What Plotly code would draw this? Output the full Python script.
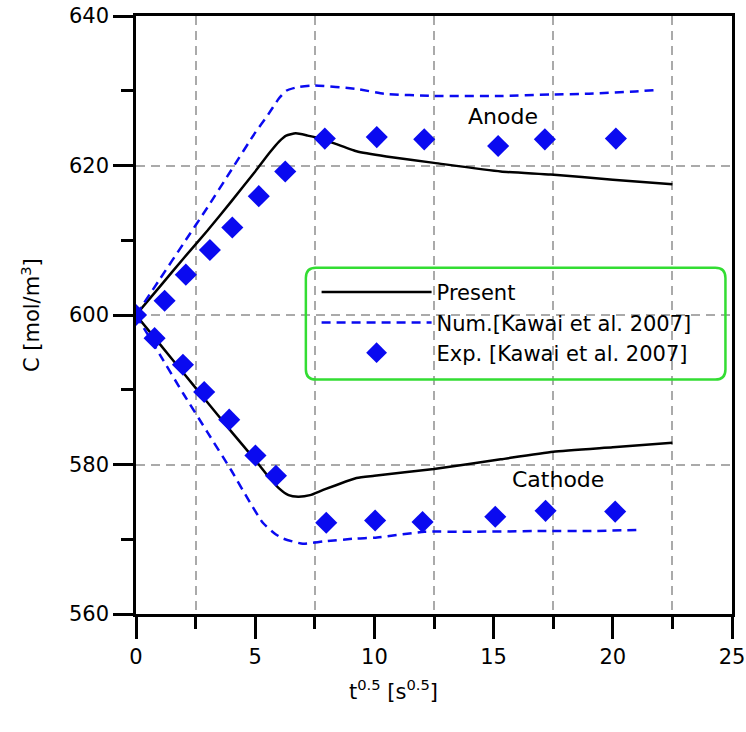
import plotly.graph_objects as go

# ---- data ----
present_anode_t = [0, 1, 2, 3, 4, 5, 5.6, 6.0, 6.3, 6.7, 7.2, 7.85, 9.25, 10.5, 12.5, 15.3, 17.4, 20, 22.5]
present_anode_c = [600, 603.8, 607.6, 611.3, 615.2, 619.2, 621.7, 623.2, 624.0, 624.3, 624.0, 623.5, 621.9, 621.2, 620.35, 619.2, 618.8, 618.1, 617.5]

present_cath_t = [0, 1, 2, 3, 4, 5, 5.5, 6.0, 6.4, 6.8, 7.3, 7.85, 9.25, 10, 12.5, 15.3, 17.5, 20, 22.5]
present_cath_c = [600, 596.1, 592.2, 588.3, 584.4, 580.6, 578.6, 576.8, 575.9, 575.7, 575.9, 576.6, 578.2, 578.5, 579.4, 580.7, 581.7, 582.3, 582.9]

num_anode_t = [0, 1, 2, 3, 4, 5, 5.5, 6.0, 6.3, 6.8, 7.5, 9.25, 10.4, 12.5, 15.3, 17.4, 19, 20.95, 21.8]
num_anode_c = [600, 604.8, 609.6, 614.4, 619.4, 624.4, 626.6, 629.0, 630.0, 630.5, 630.7, 630.25, 629.6, 629.3, 629.3, 629.5, 629.6, 629.9, 630.1]

num_cath_t = [0, 1, 2, 3, 4, 4.62, 5.32, 5.8, 6.16, 7.0, 7.85, 9.25, 10.0, 12.1, 14, 17, 19, 21.15]
num_cath_c = [600, 594.7, 589.4, 584.3, 579.2, 575.8, 572.2, 570.8, 570.1, 569.4, 569.7, 570.1, 570.2, 571.0, 571.0, 571.1, 571.1, 571.25]

exp_anode_t = [0, 1.2, 2.09, 3.1, 4.04, 5.15, 6.26, 7.92, 10.1, 12.09, 15.19, 17.15, 20.13]
exp_anode_c = [600, 601.9, 605.4, 608.7, 611.7, 615.9, 619.2, 623.6, 623.8, 623.5, 622.6, 623.5, 623.6]

exp_cath_t = [0.78, 1.97, 2.86, 3.91, 5.01, 5.87, 7.98, 10.03, 12.02, 15.07, 17.18, 20.1]
exp_cath_c = [596.9, 593.35, 589.7, 586.0, 581.2, 578.5, 572.2, 572.5, 572.3, 573.0, 573.8, 573.7]

labels = ["Present", "Num.[Kawai et al. 2007]", "Exp. [Kawai et al. 2007]"]

FONT = "DejaVu Sans"
BLUE = "#0a0af0"

fig = go.Figure()
fig.add_trace(go.Scatter(x=present_anode_t, y=present_anode_c, mode="lines",
                         line=dict(color="black", width=2.5, shape="spline", smoothing=0.5),
                         name=labels[0], legendrank=1))
fig.add_trace(go.Scatter(x=present_cath_t, y=present_cath_c, mode="lines",
                         line=dict(color="black", width=2.5, shape="spline", smoothing=0.5),
                         name=labels[0], showlegend=False))
fig.add_trace(go.Scatter(x=num_anode_t, y=num_anode_c, mode="lines",
                         line=dict(color=BLUE, width=2.5, dash="9px,6px", shape="spline", smoothing=0.5),
                         name=labels[1], legendrank=2))
fig.add_trace(go.Scatter(x=num_cath_t, y=num_cath_c, mode="lines",
                         line=dict(color=BLUE, width=2.5, dash="9px,6px", shape="spline", smoothing=0.5),
                         name=labels[1], showlegend=False))
fig.add_trace(go.Scatter(x=exp_anode_t, y=exp_anode_c, mode="markers",
                         marker=dict(symbol="diamond", size=17, color=BLUE), name=labels[2], legendrank=3))
fig.add_trace(go.Scatter(x=exp_cath_t, y=exp_cath_c, mode="markers",
                         marker=dict(symbol="diamond", size=17, color=BLUE), name=labels[2], showlegend=False))

x0, x1, y0, y1 = 0.285, 0.989, 0.392, 0.579
rx, ry = 0.017, 0.017
path = (f"M {x0+rx},{y0} L {x1-rx},{y0} Q {x1},{y0} {x1},{y0+ry} "
        f"L {x1},{y1-ry} Q {x1},{y1} {x1-rx},{y1} L {x0+rx},{y1} "
        f"Q {x0},{y1} {x0},{y1-ry} L {x0},{y0+ry} Q {x0},{y0} {x0+rx},{y0} Z")
fig.add_shape(type="path", path=path, xref="paper", yref="paper",
              line=dict(color="#33dd33", width=2.5), fillcolor="rgba(0,0,0,0)", layer="above")

fig.add_annotation(x=15.4, y=626.6, text="Anode", showarrow=False,
                   font=dict(family=FONT, size=22, color="black"))
fig.add_annotation(x=17.7, y=578.0, text="Cathode", showarrow=False,
                   font=dict(family=FONT, size=22, color="black"))

fig.add_annotation(xref="paper", yref="paper", x=(394 - 136.5) / 595, y=(614 - 690) / 597.5,
                   xanchor="center", yanchor="middle",
                   text="t<sup>0.5</sup> [s<sup>0.5</sup>]", showarrow=False,
                   font=dict(family=FONT, size=21, color="black"))
fig.add_annotation(xref="paper", yref="paper", x=(31 - 136.5) / 595, y=(614 - 315) / 597.5,
                   xanchor="center", yanchor="middle",
                   text="C [mol/m<sup>3</sup>]", textangle=-90, showarrow=False,
                   font=dict(family=FONT, size=21, color="black"))

fig.update_xaxes(range=[0, 25], dtick=5, tick0=0, ticks="outside", ticklen=22, tickwidth=2.5,
                 tickcolor="black", showline=True, linecolor="black", linewidth=2.5, mirror=True,
                 showgrid=False, zeroline=False, automargin=False,
                 tickfont=dict(family=FONT, size=21, color="black"),
                 minor=dict(dtick=2.5, tick0=0, ticks="outside", ticklen=12, tickwidth=2.5,
                            tickcolor="black", showgrid=True,
                            gridcolor="#aaaaaa", gridwidth=1.5, griddash="9px,6px"))
fig.update_yaxes(range=[560, 640], dtick=20, tick0=0, ticks="outside", ticklen=20, tickwidth=2.5,
                 tickcolor="black", showline=True, linecolor="black", linewidth=2.5, mirror=True,
                 showgrid=True, gridcolor="#aaaaaa", gridwidth=1.5, griddash="9px,6px",
                 zeroline=False, automargin=False,
                 tickfont=dict(family=FONT, size=21, color="black"),
                 minor=dict(dtick=10, tick0=0, ticks="outside", ticklen=12, tickwidth=2.5,
                            tickcolor="black", showgrid=False))

fig.update_layout(
    template="none",
    width=746, height=732,
    margin=dict(l=136, r=14, t=16, b=118),
    plot_bgcolor="white", paper_bgcolor="white",
    showlegend=True,
    legend=dict(x=0.303, y=0.572, xanchor="left", yanchor="top",
                bgcolor="rgba(0,0,0,0)", borderwidth=0, itemwidth=110,
                font=dict(family=FONT, size=21, color="black"), tracegroupgap=0),
)

fig.write_html("out.html")
